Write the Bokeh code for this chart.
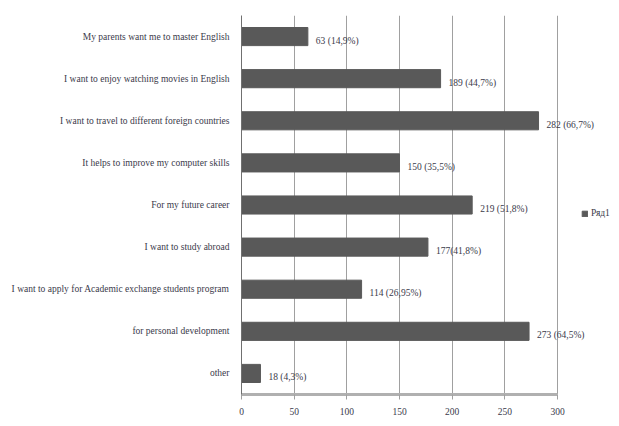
from bokeh.plotting import figure
from bokeh.models import Range1d, FactorRange, Legend, LegendItem, ColumnDataSource, LabelSet
from bokeh.embed import file_html
from bokeh.resources import INLINE

categories = [
    "My parents want me to master English",
    "I want to enjoy watching movies in English",
    "I want to travel to different foreign countries",
    "It helps to improve my computer skills",
    "For my future career",
    "I want to study abroad",
    "I want to apply for Academic exchange students program",
    "for personal development",
    "other",
]
values = [63, 189, 282, 150, 219, 177, 114, 273, 18]
value_labels = ["63 (14,9%)", "189 (44,7%)", "282 (66,7%)", "150 (35,5%)",
                "219 (51,8%)", "177(41,8%)", "114 (26,95%)", "273 (64,5%)", "18 (4,3%)"]
series_name = "Ряд1"
x_ticks = [0, 50, 100, 150, 200, 250, 300]
x_max = 300

FONT = "Liberation Serif"
TXT = "#3a3a4a"

AXIS_PX = 316      # pixel length of the 0..300 axis
FRAME_PX = 378     # frame extends to the right edge so labels/legend are not clipped

src = ColumnDataSource(dict(cat=categories, val=values, lab=value_labels))

p = figure(y_range=FactorRange(*reversed(categories)),
           x_range=Range1d(0, x_max * FRAME_PX / AXIS_PX),
           frame_width=FRAME_PX, frame_height=379, width=619, height=426,
           min_border_left=241, min_border_top=15, min_border_bottom=32, min_border_right=0,
           output_backend="svg", toolbar_location=None)

bars = p.hbar(y="cat", right="val", left=0, height=0.43, source=src,
              fill_color="#595959", line_color="#595959")
labels = LabelSet(x="val", y="cat", text="lab", source=src, x_offset=8, y_offset=-4,
                  text_baseline="middle", text_align="left", text_font_size="9.5px",
                  text_font=FONT, text_color=TXT)
p.add_layout(labels)

p.outline_line_color = None
p.ygrid.grid_line_color = None
p.xgrid.grid_line_color = "#a0a0a0"
p.xgrid.grid_line_width = 1
p.xgrid.bounds = (0, x_max)
p.xaxis.bounds = (0, x_max)
p.xaxis.ticker = x_ticks
p.xaxis.axis_line_color = "#b0b0b0"
p.xaxis.axis_line_width = 3
p.xaxis.major_tick_line_color = "#a0a0a0"
p.xaxis.major_tick_out = 5
p.xaxis.major_tick_in = 0
p.xaxis.minor_tick_line_color = None
p.xaxis.major_label_text_font = FONT
p.xaxis.major_label_text_font_size = "9.5px"
p.xaxis.major_label_text_color = TXT
p.xaxis.major_label_standoff = 8

p.yaxis.axis_line_color = "#707070"
p.yaxis.major_tick_line_color = None
p.yaxis.major_label_text_font = FONT
p.yaxis.major_label_text_font_size = "9.5px"
p.yaxis.major_label_text_color = TXT
p.yaxis.major_label_standoff = 6

legend = Legend(items=[LegendItem(label=series_name, renderers=[bars])],
                location=(340, 176), glyph_width=7, glyph_height=7, label_standoff=3,
                label_text_font=FONT, label_text_font_size="9.5px", label_text_color=TXT,
                border_line_color=None, background_fill_alpha=0, margin=0, padding=3,
                label_height=10)
p.add_layout(legend)

open("out.html", "w").write(file_html(p, INLINE))
